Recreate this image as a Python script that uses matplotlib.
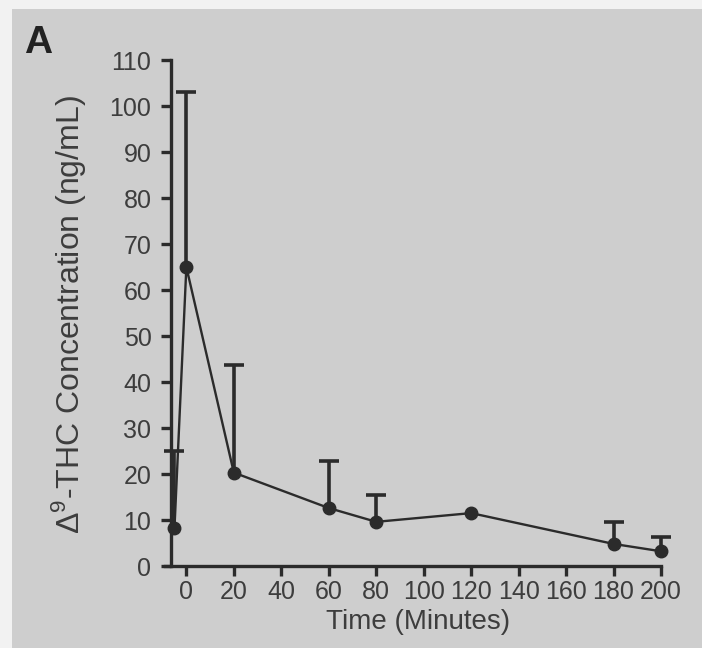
import matplotlib
matplotlib.use("Agg")
import matplotlib.pyplot as plt
from matplotlib.patches import Rectangle
import numpy as np

# Data
time_min = [-5, 0, 20, 60, 80, 120, 180, 200]
thc_mean = [8.3, 65, 20.3, 12.6, 9.6, 11.5, 4.8, 3.2]
thc_upper = [25, 103, 43.7, 22.8, 15.4, None, 9.6, 6.2]
x_ticks = [0, 20, 40, 60, 80, 100, 120, 140, 160, 180, 200]
y_ticks = [0, 10, 20, 30, 40, 50, 60, 70, 80, 90, 100, 110]

plt.rcParams['font.family'] = ['Liberation Sans', 'DejaVu Sans']
plt.rcParams['mathtext.fontset'] = 'custom'
plt.rcParams['mathtext.rm'] = 'Liberation Sans'
ink = '#2b2b2b'
txt = '#3d3d3d'
bg = '#cecece'

fig = plt.figure(figsize=(7.02, 6.48), dpi=100)
fig.patch.set_facecolor('#f2f2f2')
fig.patches.append(Rectangle((12/702, 0), 1, 1 - 9/648, transform=fig.transFigure,
                             facecolor=bg, edgecolor='none', zorder=-10))

ax = fig.add_axes([165/702, 1 - 566/648, (661 - 165)/702, (566 - 60)/648])
ax.set_facecolor('none')

x = np.array(time_min, dtype=float)
y = np.array(thc_mean, dtype=float)
ax.plot(x, y, color=ink, lw=1.7, marker='o', ms=9, mfc=ink, mec=ink, clip_on=False, zorder=3)

ex, ey, eu = [], [], []
for xi, yi, ui in zip(time_min, thc_mean, thc_upper):
    if ui is not None:
        ex.append(xi); ey.append(yi); eu.append(ui)
# upper-only error bars with a cap at the top
ax.vlines(ex, ey, eu, colors=ink, linewidth=2.6, zorder=2, clip_on=False)
ax.plot(ex, eu, linestyle='none', marker='_', ms=14, mew=2.6, color=ink, zorder=2, clip_on=False)

ax.set_xlim(-9, 200)
ax.set_ylim(0, 110)
ax.spines['top'].set_visible(False)
ax.spines['right'].set_visible(False)
ax.spines['left'].set_position(('data', -6.5))
for s in ('left', 'bottom'):
    ax.spines[s].set_color(ink)
    ax.spines[s].set_linewidth(2.4)

ax.set_xticks(x_ticks)
ax.set_yticks(y_ticks)
ax.tick_params(axis='both', colors=ink, width=2.4, length=7, labelsize=18, labelcolor=txt)
ax.tick_params(axis='x', pad=3)
ax.tick_params(axis='y', pad=7)

ax.set_xlabel('Time (Minutes)', fontsize=20, color=txt)
ax.xaxis.set_label_coords((418 - 165) / 496, -(609 - 566) / 506)
ax.set_ylabel(r'$\Delta^{9}$-THC Concentration (ng/mL)', fontsize=23, color=txt)
ax.yaxis.set_label_coords((88 - 165) / 496, (566 - 315) / 506)

fig.text(24/702, 1 - 43/648, 'A', fontsize=28, fontweight='bold', color='#222222',
         va='center', ha='left')

fig.savefig('out.png', dpi=100, facecolor=fig.get_facecolor())
